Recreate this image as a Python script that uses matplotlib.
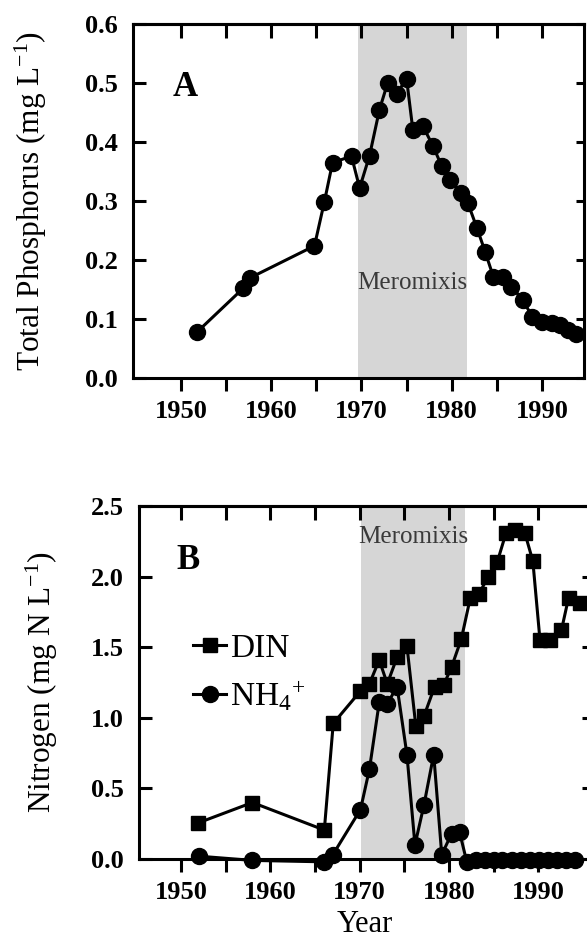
import matplotlib
matplotlib.use('Agg')
import matplotlib.pyplot as plt

plt.rcParams['font.family'] = ['Liberation Serif', 'DejaVu Serif']
plt.rcParams['mathtext.fontset'] = 'custom'
plt.rcParams['mathtext.rm'] = 'Liberation Serif'
plt.rcParams['mathtext.it'] = 'Liberation Serif:italic'
plt.rcParams['mathtext.bf'] = 'Liberation Serif:bold'

# panel A - total phosphorus
tp_year = [1951.8, 1956.9, 1957.7, 1964.8, 1965.9, 1966.8, 1968.9, 1969.8,
           1970.9, 1972.0, 1972.9, 1973.9, 1975.0, 1975.7, 1976.8, 1977.9,
           1978.9, 1979.8, 1981.0, 1981.8, 1982.8, 1983.7, 1984.6, 1985.7,
           1986.6, 1987.9, 1988.9, 1990.0, 1991.1, 1992.0, 1992.9, 1993.8]
tp = [0.078, 0.152, 0.170, 0.224, 0.299, 0.365, 0.376, 0.322,
      0.377, 0.455, 0.500, 0.482, 0.507, 0.420, 0.427, 0.394,
      0.359, 0.336, 0.313, 0.296, 0.254, 0.214, 0.172, 0.172,
      0.155, 0.132, 0.104, 0.095, 0.094, 0.090, 0.081, 0.074]

# panel B - nitrogen
din_year = [1951.9, 1958.0, 1966.05, 1967.05, 1970.1, 1971.1, 1972.2, 1973.1,
            1974.2, 1975.3, 1976.3, 1977.2, 1978.4, 1979.4, 1980.3, 1981.4,
            1982.4, 1983.4, 1984.4, 1985.4, 1986.4, 1987.4, 1988.5, 1989.4,
            1990.2, 1991.3, 1992.6, 1993.4, 1994.7]
din = [0.255, 0.40, 0.205, 0.96, 1.19, 1.24, 1.41, 1.24,
       1.43, 1.51, 0.94, 1.01, 1.22, 1.23, 1.36, 1.56,
       1.85, 1.88, 2.00, 2.10, 2.31, 2.33, 2.31, 2.11,
       1.55, 1.55, 1.62, 1.85, 1.81]

nh4_year = [1952.0, 1958.0, 1966.0, 1967.0, 1970.1, 1971.1, 1972.2, 1973.1,
            1974.2, 1975.3, 1976.2, 1977.2, 1978.3, 1979.2, 1980.3, 1981.2,
            1982.0, 1983.0, 1984.0, 1985.0, 1986.0, 1987.1, 1988.1, 1989.1,
            1990.1, 1991.1, 1992.1, 1993.1, 1994.1]
nh4 = [0.02, -0.01, -0.02, 0.03, 0.35, 0.635, 1.11, 1.10,
       1.22, 0.74, 0.10, 0.38, 0.74, 0.03, 0.18, 0.19,
       -0.02, -0.01, -0.01, -0.01, -0.01, -0.01, -0.01, -0.01,
       -0.01, -0.01, -0.01, -0.01, -0.01]

mero_a = (1969.6, 1981.7)
mero_b = (1970.2, 1981.8)

W, H = 587, 947
fig = plt.figure(figsize=(W / 100, H / 100), dpi=100)
axA = fig.add_axes([133 / W, 1 - 378 / H, 451 / W, 354 / H])
axB = fig.add_axes([139 / W, 1 - 859 / H, 451 / W, 353 / H])

tick_font = dict(fontsize=19, fontweight='bold')
shade = '#d6d6d6'
lw = 2.2


def style_axes(ax, xlim, ylim, yticks, yfmt):
    ax.set_xlim(*xlim)
    ax.set_ylim(*ylim)
    for s in ax.spines.values():
        s.set_linewidth(lw)
    ax.set_xticks([1950, 1955, 1960, 1965, 1970, 1975, 1980, 1985, 1990])
    ax.set_xticklabels(['1950', '', '1960', '', '1970', '', '1980', '', '1990'],
                       **tick_font)
    ax.set_yticks(yticks)
    ax.set_yticklabels([yfmt % v for v in yticks], **tick_font)
    ax.tick_params(axis='x', direction='out', length=9.5, width=lw, pad=6)
    ax.tick_params(axis='y', direction='in', length=9.5, width=lw, pad=11,
                   right=True)
    for t in ax.yaxis.get_major_ticks():
        t.tick2line.set_markersize(6)
    # top ticks point inward
    top = ax.secondary_xaxis('top')
    top.set_xticks([1950, 1955, 1960, 1965, 1970, 1975, 1980, 1985, 1990])
    top.tick_params(direction='in', length=10, width=lw, labeltop=False)
    top.spines['top'].set_linewidth(lw)


# ---- A ----
axA.axvspan(*mero_a, color=shade, lw=0, zorder=0)
axA.plot(tp_year, tp, '-o', color='black', lw=2.2, markersize=11.5,
         clip_on=False, zorder=3)
style_axes(axA, (1944.7, 1994.65), (0, 0.6),
           [0, 0.1, 0.2, 0.3, 0.4, 0.5, 0.6], '%.1f')
axA.set_ylabel('Total Phosphorus (mg L$^{-1}$)', fontsize=22.5, labelpad=26)
axA.text(0.088, 0.82, 'A', transform=axA.transAxes, fontsize=25,
         fontweight='bold', va='center', ha='left')
axA.text(sum(mero_a) / 2, 0.161, 'Meromixis', fontsize=18, color='#3a3a3a',
         ha='center', va='center')

# ---- B ----
axB.axvspan(*mero_b, color=shade, lw=0, zorder=0)
axB.plot(din_year, din, '-s', color='black', lw=2.2, markersize=10.5,
         clip_on=False, zorder=3, label='DIN')
axB.plot(nh4_year, nh4, '-o', color='black', lw=2.2, markersize=11.5,
         clip_on=False, zorder=4, label='NH$_4$$^{+}$')
style_axes(axB, (1945.3, 1995.8), (0, 2.5),
           [0, 0.5, 1.0, 1.5, 2.0, 2.5], '%.1f')
axB.set_ylabel('Nitrogen (mg N L$^{-1}$)', fontsize=22.5, labelpad=22)
axB.set_xlabel('Year', fontsize=22, labelpad=5)
axB.text(0.083, 0.845, 'B', transform=axB.transAxes, fontsize=25,
         fontweight='bold', va='center', ha='left')
axB.text(sum(mero_b) / 2, 2.28, 'Meromixis', fontsize=18, color='#3a3a3a',
         ha='center', va='center')
axB.legend(loc='upper left', bbox_to_anchor=(0.12, 0.64), frameon=False,
           fontsize=24, handlelength=1.0, handletextpad=0.1,
           labelspacing=0.45, borderpad=0, borderaxespad=0)

fig.savefig('out.png', dpi=100)
